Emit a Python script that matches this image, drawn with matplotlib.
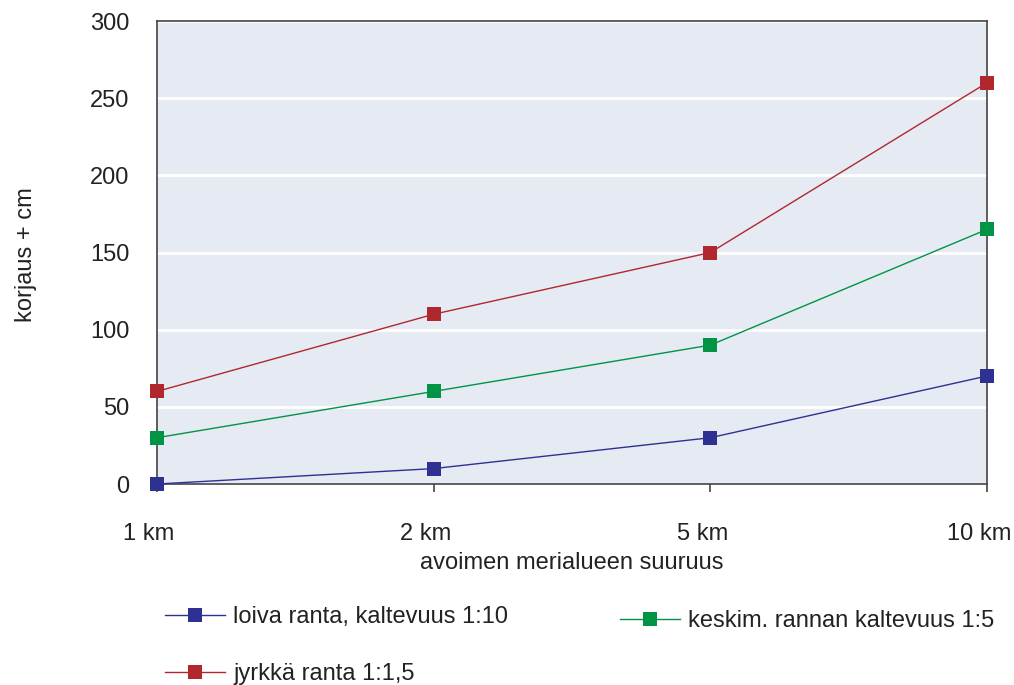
import matplotlib.pyplot as plt
import matplotlib.transforms as mtransforms

plt.rcParams['font.family'] = ['Liberation Sans', 'DejaVu Sans']

# data
categories = ['1 km', '2 km', '5 km', '10 km']
loiva = [0, 10, 30, 70]
keskim = [30, 60, 90, 165]
jyrkka = [60, 110, 150, 260]

labels = ['loiva ranta, kaltevuus 1:10', 'keskim. rannan kaltevuus 1:5', 'jyrkkä ranta 1:1,5']
colors = ['#2E3192', '#009444', '#B0282E']

fig = plt.figure(figsize=(10.14, 6.85), dpi=100)
ax = fig.add_axes([0.1548, 0.2934, 0.8186, 0.6759])
ax.set_facecolor('#E6EAF3')

x = range(len(categories))
lines = []
for vals, lab, c in zip([loiva, keskim, jyrkka], labels, colors):
    ln, = ax.plot(x, vals, color=c, lw=1.0, marker='s', markersize=10,
                  markeredgewidth=0, label=lab, clip_on=False, zorder=3)
    lines.append(ln)

ax.set_xlim(0, 3)
ax.set_ylim(0, 300)
ax.set_xticks(list(x))
ax.set_xticklabels(categories)
ax.set_yticks([0, 50, 100, 150, 200, 250, 300])
ax.yaxis.grid(True, color='white', lw=2)
ax.set_axisbelow(True)
for s in ax.spines.values():
    s.set_color('#444444')
    s.set_linewidth(1.2)
ax.tick_params(axis='x', length=6, width=1.2, color='#444444', pad=22, labelsize=17, labelcolor='#222222')
ax.tick_params(axis='y', length=0, pad=20, labelsize=17, labelcolor='#222222')

# x tick labels sit a bit left of their ticks in the original
shift = mtransforms.ScaledTranslation(-8 / 100, 0, fig.dpi_scale_trans)
for lbl in ax.get_xticklabels():
    lbl.set_transform(lbl.get_transform() + shift)

fig.text(0.026, 0.628, 'korjaus + cm', rotation=90, fontsize=17, color='#222222',
         ha='center', va='center')
fig.text(0.564, 0.178, 'avoimen merialueen suuruus', fontsize=17, color='#222222',
         ha='center', va='center')

leg1 = fig.legend([lines[0], lines[2]], [labels[0], labels[2]], loc='upper left',
                  bbox_to_anchor=(0.1627, 0.1146), bbox_transform=fig.transFigure,
                  frameon=False, fontsize=17, handlelength=2.55, handletextpad=0.34,
                  labelspacing=1.46, borderaxespad=0, borderpad=0)
leg2 = fig.legend([lines[1]], [labels[1]], loc='upper left',
                  bbox_to_anchor=(0.6114, 0.1088), bbox_transform=fig.transFigure,
                  frameon=False, fontsize=17, handlelength=2.55, handletextpad=0.34,
                  borderaxespad=0, borderpad=0)
for t in leg1.get_texts() + leg2.get_texts():
    t.set_color('#222222')

fig.savefig('out.png', dpi=100)
